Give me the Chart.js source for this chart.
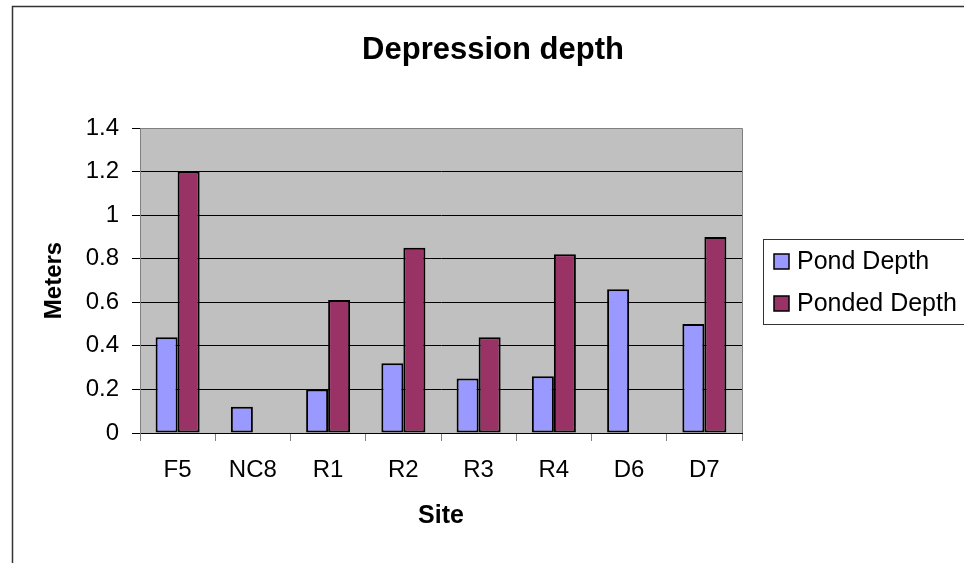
<!DOCTYPE html>
<html>
<head>
<meta charset="utf-8">
<title>Depression depth</title>
<script src="https://cdn.jsdelivr.net/npm/chart.js@4/dist/chart.umd.min.js"></script>
<style>
  html, body { margin: 0; padding: 0; background: #ffffff; }
  #wrap { width: 964px; height: 563px; }
</style>
</head>
<body>
<div id="wrap"><canvas id="chart" width="964" height="563"></canvas></div>
<script>
// Sites along the x axis
const sites = ['F5', 'NC8', 'R1', 'R2', 'R3', 'R4', 'D6', 'D7'];
// Depths in metres (null = not measured)
const pondDepth = [0.44, 0.12, 0.20, 0.32, 0.25, 0.26, 0.66, 0.50];
const pondedDepth = [1.20, null, 0.61, 0.85, 0.44, 0.82, null, 0.90];
// Value-axis tick labels, bottom to top
const yTickLabels = ['0', '0.2', '0.4', '0.6', '0.8', '1', '1.2', '1.4'];

const FONT = '"Liberation Sans", Arial, Helvetica, sans-serif';

// Chart frame, plot background and top/right plot border
const frame = {
  id: 'frame',
  beforeDraw(chart) {
    const { ctx, chartArea: a } = chart;
    ctx.save();
    ctx.fillStyle = '#ffffff';
    ctx.fillRect(0, 0, chart.width, chart.height);
    ctx.strokeStyle = '#333333';
    ctx.lineWidth = 1.5;
    ctx.strokeRect(12.5, 6.5, 1000, 620);
    ctx.fillStyle = '#c0c0c0';
    ctx.fillRect(a.left, a.top, a.right - a.left, a.bottom - a.top);
    ctx.restore();
  },
  beforeDatasetsDraw(chart) {
    const { ctx, chartArea: a } = chart;
    ctx.save();
    ctx.strokeStyle = '#808080';
    ctx.lineWidth = 1;
    ctx.beginPath();
    ctx.moveTo(a.left, a.top + 0.5);
    ctx.lineTo(Math.round(a.right) + 0.5, a.top + 0.5);
    ctx.lineTo(Math.round(a.right) + 0.5, a.bottom);
    ctx.stroke();
    ctx.restore();
  }
};

// Chart title
const heading = {
  id: 'heading',
  afterDraw(chart) {
    const { ctx } = chart;
    ctx.save();
    ctx.fillStyle = '#000000';
    ctx.font = 'bold 31px ' + FONT;
    ctx.textAlign = 'center';
    ctx.textBaseline = 'alphabetic';
    ctx.fillText('Depression depth', 493, 59);
    ctx.restore();
  }
};

// Boxed legend to the right of the plot
const boxLegend = {
  id: 'boxLegend',
  afterDraw(chart) {
    const { ctx } = chart;
    const x0 = 763.5, y0 = 239.5, h = 85;
    ctx.save();
    ctx.fillStyle = '#ffffff';
    ctx.fillRect(x0, y0, 220, h);
    ctx.strokeStyle = '#333333';
    ctx.lineWidth = 1;
    ctx.strokeRect(x0, y0, 220, h);
    ctx.font = '25px ' + FONT;
    ctx.textBaseline = 'middle';
    ctx.textAlign = 'left';
    const rows = [262, 304];
    chart.data.datasets.forEach((ds, i) => {
      const cy = rows[i];
      ctx.fillStyle = ds.backgroundColor;
      ctx.fillRect(774, cy - 8, 15, 15);
      ctx.strokeStyle = '#000000';
      ctx.lineWidth = 1.5;
      ctx.strokeRect(774, cy - 8, 15, 15);
      ctx.fillStyle = '#000000';
      ctx.fillText(ds.label, 797, cy);
    });
    ctx.restore();
  }
};

new Chart(document.getElementById('chart'), {
  type: 'bar',
  data: {
    labels: sites,
    datasets: [
      {
        label: 'Pond Depth',
        data: pondDepth,
        backgroundColor: '#9999ff',
        borderColor: '#000000',
        borderWidth: 2,
        borderSkipped: false
      },
      {
        label: 'Ponded Depth',
        data: pondedDepth,
        backgroundColor: '#993366',
        borderColor: '#000000',
        borderWidth: 2,
        borderSkipped: false
      }
    ]
  },
  plugins: [frame, heading, boxLegend],
  options: {
    responsive: false,
    animation: false,
    devicePixelRatio: 1,
    categoryPercentage: 0.585,
    barPercentage: 1.0,
    layout: { padding: { top: 128, right: 222, left: 0, bottom: 0 } },
    plugins: {
      legend: { display: false },
      title: { display: false },
      tooltip: { enabled: false }
    },
    scales: {
      x: {
        offset: true,
        grid: {
          offset: true,
          drawOnChartArea: false,
          drawTicks: true,
          tickLength: 8,
          color: '#808080',
          lineWidth: 1
        },
        border: { display: true, color: '#000000', width: 1 },
        ticks: {
          color: '#000000',
          font: { family: FONT, size: 24 },
          padding: 15,
          maxRotation: 0,
          autoSkip: false
        },
        title: {
          display: true,
          text: 'Site',
          color: '#000000',
          font: { family: FONT, size: 25, weight: 'bold' },
          padding: { top: 0, bottom: 32 }
        },
        afterFit(scale) { scale.height = 130; }
      },
      y: {
        min: 0,
        max: 1.4,
        ticks: {
          stepSize: 0.2,
          color: '#000000',
          font: { family: FONT, size: 24 },
          padding: 13,
          callback: (v, i) => yTickLabels[i]
        },
        grid: {
          drawTicks: true,
          tickLength: 8,
          color: ctx => (ctx.tick && ctx.tick.value >= 1.39) ? '#808080' : '#000000',
          tickColor: '#000000',
          lineWidth: 1
        },
        border: { display: true, color: '#808080', width: 1 },
        title: {
          display: true,
          text: 'Meters',
          color: '#000000',
          font: { family: FONT, size: 24, weight: 'bold' },
          padding: { top: 40, bottom: 0 }
        },
        afterFit(scale) { scale.width = 140; }
      }
    }
  }
});
</script>
</body>
</html>
